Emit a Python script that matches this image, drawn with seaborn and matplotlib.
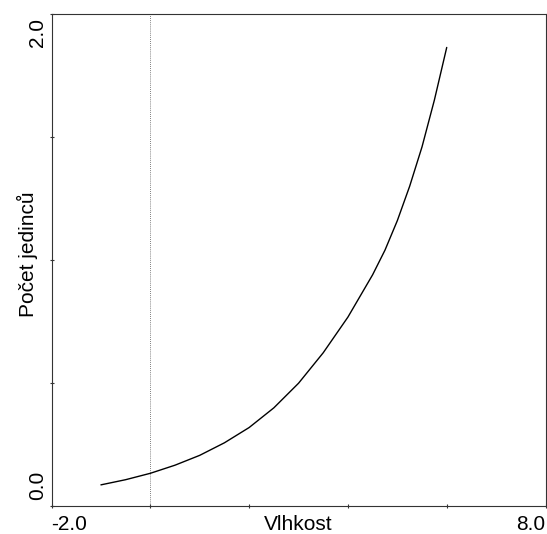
import matplotlib
matplotlib.use("Agg")
import matplotlib.pyplot as plt
import matplotlib.transforms as mtrans
import seaborn as sns
import pandas as pd

# Data
vlhkost = [-1.0, -0.5, 0.0, 0.5, 1.0, 1.5, 2.0, 2.5, 3.0, 3.5, 4.0, 4.5, 4.75, 5.0, 5.25, 5.5, 5.75, 6.0]
pocet = [0.086, 0.107, 0.133, 0.166, 0.206, 0.257, 0.319, 0.399, 0.499, 0.623, 0.768, 0.940, 1.040,
         1.160, 1.300, 1.460, 1.650, 1.864]
x_ticks = [-2, 0, 2, 4, 6, 8]
x_ticklabels = ["-2.0", "", "", "", "", "8.0"]
y_ticks = [0.0, 0.5, 1.0, 1.5, 2.0]
y_ticklabels = ["0.0", "", "", "", "2.0"]
ref_line_x = 0.0

sns.set_theme(style="white")
plt.rcParams["font.family"] = ["Liberation Sans", "DejaVu Sans"]

df = pd.DataFrame({"Vlhkost": vlhkost, "Počet jedinců": pocet})

fig = plt.figure(figsize=(5.47, 5.34), dpi=100)
ax = fig.add_axes([0.0942, 0.0524, 0.9031, 0.9214])

ax.axvline(ref_line_x, color="#555555", lw=0.6, ls=(0, (1, 1.5)), zorder=1)
sns.lineplot(data=df, x="Vlhkost", y="Počet jedinců", color="black", lw=1.0, ax=ax, zorder=2)

ax.set_xlim(-2, 8)
ax.set_ylim(0, 2)

for s in ax.spines.values():
    s.set_color("#333333")
    s.set_linewidth(0.8)

ax.set_xticks(x_ticks)
ax.set_xticklabels(x_ticklabels)
ax.set_yticks(y_ticks)
ax.set_yticklabels(y_ticklabels, rotation=90)

ax.tick_params(axis="x", bottom=True, direction="inout", length=3.5, width=0.8, color="#333333",
               labelsize=15, pad=5, labelcolor="black")
ax.tick_params(axis="y", left=True, direction="inout", length=3.5, width=0.8, color="#333333",
               labelsize=15, pad=1.5, labelcolor="black")

xl = ax.get_xticklabels()
xl[0].set_ha("left")
xl[-1].set_ha("right")

yl = ax.get_yticklabels()
yl[0].set_va("bottom")
yl[0].set_transform(yl[0].get_transform() + mtrans.ScaledTranslation(0, 6 / 100, fig.dpi_scale_trans))
yl[-1].set_va("top")
yl[-1].set_transform(yl[-1].get_transform() + mtrans.ScaledTranslation(0, -4 / 100, fig.dpi_scale_trans))

ax.set_xlabel("Vlhkost", fontsize=15, color="black")
ax.set_ylabel("Počet jedinců", fontsize=15, color="black")
ax.xaxis.set_label_coords(0.5, -0.0183)
ax.yaxis.set_label_coords(-0.0283, 0.512)

fig.savefig("out.png", dpi=100, facecolor="white")
